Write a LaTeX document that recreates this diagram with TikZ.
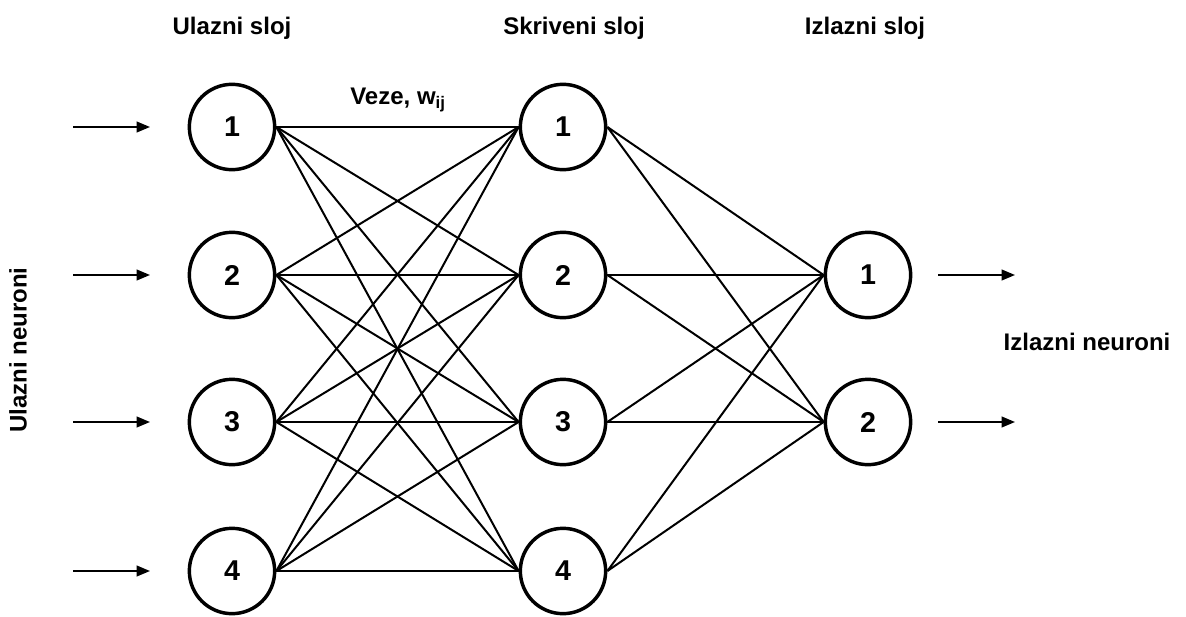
\documentclass[tikz,border=0pt]{standalone}
\usepackage{fontspec}
\setmainfont{Liberation Sans}
\usetikzlibrary{calc,positioning,arrows.meta}

\begin{document}
\begin{tikzpicture}[x=0.75pt,y=-0.75pt,>={Triangle[length=10pt,width=8pt]}]

	\tikzset{neuron/.style={
				circle,draw=black,line width=2.6pt,
				inner sep=0pt,minimum size=64pt,
				font=\fontsize{21.5}{26}\selectfont\bfseries
			},
		edge/.style={line width=1.5pt},
		lbl/.style={font=\fontsize{18}{22}\selectfont\bfseries,inner sep=0pt}
	}

	\useasboundingbox (0,0) rectangle (1186,617);

	% layers
	\foreach \i/\y in {1/127, 2/275, 3/422, 4/571} {
			\node[neuron] (in\i) at (232,\y) {\i};
			\node[neuron] (hid\i) at (563,\y) {\i};
			\coordinate (s\i) at (73,\y);
			\coordinate (e\i) at (150,\y);
			\draw[edge,->] (s\i) -- (e\i);
		}

	\foreach \j/\y in {1/275, 2/422} {
			\node[neuron] (out\j) at (868,\y) {\j};
			\coordinate (os\j) at (938,\y);
			\coordinate (oe\j) at (1015,\y);
			\draw[edge,->] (os\j) -- (oe\j);
		}

	% connections
	\foreach \i in {1,2,3,4} {
			\foreach \k in {1,2,3,4} {
					\draw[edge] (in\i.east) -- (hid\k.west);
				}
			\foreach \j in {1,2} {
					\draw[edge] (hid\i.east) -- (out\j.west);
				}
		}

	% labels
	\node[lbl] (tin) at (232,28) {Ulazni sloj};
	\node[lbl] (thid) at (574,28) {Skriveni sloj};
	\node[lbl] (tout) at (865,28) {Izlazni sloj};
	\node[lbl] (veze) at (398,100) {Veze, w\textsubscript{ij}};
	\node[lbl,rotate=90] (nin) at (18,350) {Ulazni neuroni};
	\node[lbl] (nout) at (1087,342) {Izlazni neuroni};
\end{tikzpicture}
\end{document}
